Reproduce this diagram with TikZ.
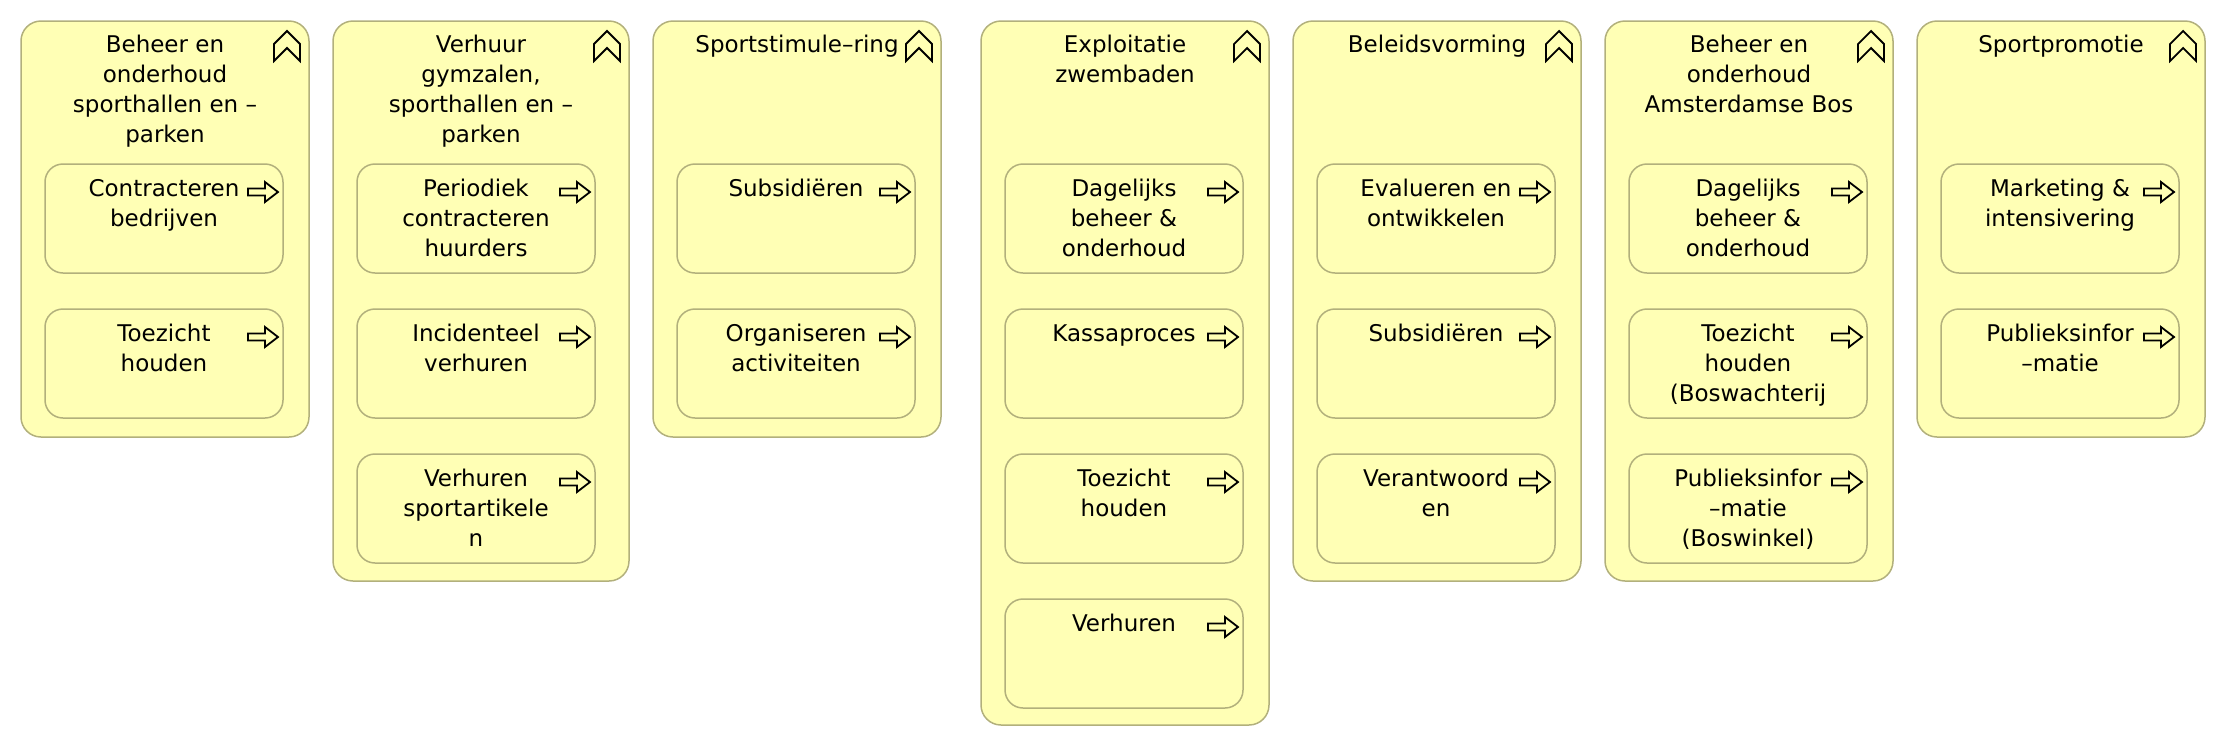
\documentclass[tikz,border=0pt]{standalone}
\usepackage{fontspec}
\setmainfont{DejaVu Sans}
\usetikzlibrary{positioning}
\definecolor{bizfill}{HTML}{FFFFB5}
\definecolor{bizline}{HTML}{B2B07C}
\tikzset{
    fungroup/.style = {draw = bizline, fill = bizfill, line width = 0.75pt, rounded corners = 10pt,
        inner sep = 0pt, outer sep = 0pt, minimum width = 144pt, anchor = north west},
    procbox/.style = {draw = bizline, fill = bizfill, line width = 0.75pt, rounded corners = 9pt,
        inner sep = 0pt, outer sep = 0pt, minimum width = 119pt, minimum height = 54.5pt, anchor = north west},
    grptitle/.style = {inner sep = 0pt, align = center, font = \fontsize{11.5pt}{15pt}\selectfont},
    proctext/.style = {inner sep = 0pt, align = center, font = \fontsize{11.5pt}{15pt}\selectfont},
    icon/.style = {draw = black, line width = 0.9pt, line join = miter},
    funcicon/.pic = {\draw[icon] (-17.5,20) -- (-17.5,11.5) -- (-11,5) -- (-4.5,11.5) -- (-4.5,20) -- (-11,13.5) -- cycle;},
    procicon/.pic = {\draw[icon] (-17.5,12.25) -- (-9,12.25) -- (-9,9) -- (-2.5,14) -- (-9,19) -- (-9,15.75) -- (-17.5,15.75) -- cycle;}
}

\begin{document}
\begin{tikzpicture}[x = 1pt, y = -1pt]
    \useasboundingbox (0,0) rectangle (1113,373);

    \node[fungroup, minimum height = 208pt] (beheer) at (10.5,10.5) {};
    \node[fungroup, minimum height = 280pt, minimum width = 148pt] (verhuur) at (166.5,10.5) {};
    \node[fungroup, minimum height = 208pt] (stimulering) at (326.5,10.5) {};
    \node[fungroup, minimum height = 352pt] (zwembaden) at (490.5,10.5) {};
    \node[fungroup, minimum height = 280pt] (beleid) at (646.5,10.5) {};
    \node[fungroup, minimum height = 280pt] (bos) at (802.5,10.5) {};
    \node[fungroup, minimum height = 208pt] (promotie) at (958.5,10.5) {};

    \node[grptitle, below = 6.8pt of beheer.north] (beheer-t) {Beheer en\\onderhoud\\sporthallen en –\\parken};
    \node[grptitle, below = 6.8pt of verhuur.north] (verhuur-t) {Verhuur\\gymzalen,\\sporthallen en –\\parken};
    \node[grptitle, below = 6.8pt of stimulering.north] (stimulering-t) {Sportstimule–ring};
    \node[grptitle, below = 6.8pt of zwembaden.north] (zwembaden-t) {Exploitatie\\zwembaden};
    \node[grptitle, below = 6.8pt of beleid.north] (beleid-t) {Beleidsvorming};
    \node[grptitle, below = 6.8pt of bos.north] (bos-t) {Beheer en\\onderhoud\\Amsterdamse Bos};
    \node[grptitle, below = 6.8pt of promotie.north] (promotie-t) {Sportpromotie};

    \pic at (beheer.north east) {funcicon};
    \pic at (verhuur.north east) {funcicon};
    \pic at (stimulering.north east) {funcicon};
    \pic at (zwembaden.north east) {funcicon};
    \pic at (beleid.north east) {funcicon};
    \pic at (bos.north east) {funcicon};
    \pic at (promotie.north east) {funcicon};

    \node[procbox] (beheer1) at ([shift = {(12,71.5)}]beheer.north west) {};
    \node[procbox, below = 18pt of beheer1] (beheer2) {};
    \node[procbox] (verhuur1) at ([shift = {(12,71.5)}]verhuur.north west) {};
    \node[procbox, below = 18pt of verhuur1] (verhuur2) {};
    \node[procbox, below = 18pt of verhuur2] (verhuur3) {};
    \node[procbox] (stimulering1) at ([shift = {(12,71.5)}]stimulering.north west) {};
    \node[procbox, below = 18pt of stimulering1] (stimulering2) {};
    \node[procbox] (zwembaden1) at ([shift = {(12,71.5)}]zwembaden.north west) {};
    \node[procbox, below = 18pt of zwembaden1] (zwembaden2) {};
    \node[procbox, below = 18pt of zwembaden2] (zwembaden3) {};
    \node[procbox, below = 18pt of zwembaden3] (zwembaden4) {};
    \node[procbox] (beleid1) at ([shift = {(12,71.5)}]beleid.north west) {};
    \node[procbox, below = 18pt of beleid1] (beleid2) {};
    \node[procbox, below = 18pt of beleid2] (beleid3) {};
    \node[procbox] (bos1) at ([shift = {(12,71.5)}]bos.north west) {};
    \node[procbox, below = 18pt of bos1] (bos2) {};
    \node[procbox, below = 18pt of bos2] (bos3) {};
    \node[procbox] (promotie1) at ([shift = {(12,71.5)}]promotie.north west) {};
    \node[procbox, below = 18pt of promotie1] (promotie2) {};

    \node[proctext, below = 7.5pt of beheer1.north] {Contracteren\\bedrijven};
    \node[proctext, below = 7.5pt of beheer2.north] {Toezicht\\houden};
    \node[proctext, below = 7.5pt of verhuur1.north] {Periodiek\\contracteren\\huurders};
    \node[proctext, below = 7.5pt of verhuur2.north] {Incidenteel\\verhuren};
    \node[proctext, below = 7.5pt of verhuur3.north] {Verhuren\\sportartikele\\n};
    \node[proctext, below = 7.5pt of stimulering1.north] {Subsidiëren};
    \node[proctext, below = 7.5pt of stimulering2.north] {Organiseren\\activiteiten};
    \node[proctext, below = 7.5pt of zwembaden1.north] {Dagelijks\\beheer \&\\onderhoud};
    \node[proctext, below = 7.5pt of zwembaden2.north] {Kassaproces};
    \node[proctext, below = 7.5pt of zwembaden3.north] {Toezicht\\houden};
    \node[proctext, below = 7.5pt of zwembaden4.north] {Verhuren};
    \node[proctext, below = 7.5pt of beleid1.north] {Evalueren en\\ontwikkelen};
    \node[proctext, below = 7.5pt of beleid2.north] {Subsidiëren};
    \node[proctext, below = 7.5pt of beleid3.north] {Verantwoord\\en};
    \node[proctext, below = 7.5pt of bos1.north] {Dagelijks\\beheer \&\\onderhoud};
    \node[proctext, below = 7.5pt of bos2.north] {Toezicht\\houden\\(Boswachterij};
    \node[proctext, below = 7.5pt of bos3.north] {Publieksinfor\\–matie\\(Boswinkel)};
    \node[proctext, below = 7.5pt of promotie1.north] {Marketing \&\\intensivering};
    \node[proctext, below = 7.5pt of promotie2.north] {Publieksinfor\\–matie};

    \foreach \p in {beheer1, beheer2, verhuur1, verhuur2, verhuur3, stimulering1, stimulering2,
        zwembaden1, zwembaden2, zwembaden3, zwembaden4, beleid1, beleid2, beleid3,
        bos1, bos2, bos3, promotie1, promotie2}
        \pic at (\p.north east) {procicon};
\end{tikzpicture}
\end{document}
